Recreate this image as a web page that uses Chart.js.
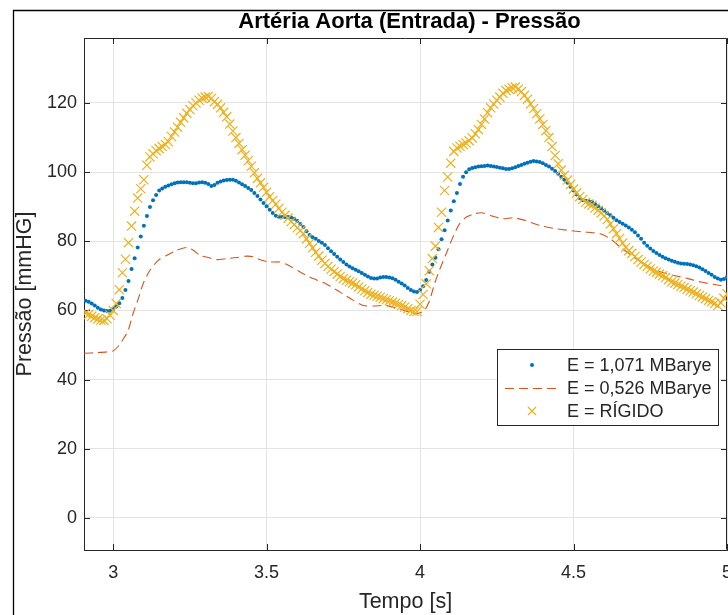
<!DOCTYPE html>
<html>
<head>
<meta charset="utf-8">
<script src="https://cdn.jsdelivr.net/npm/chart.js@4.4.1/dist/chart.umd.min.js"></script>
<style>
html,body{margin:0;padding:0;background:#fff;overflow:hidden;width:728px;height:615px;}
#wrap{position:absolute;left:0;top:0;width:760px;height:615px;}
</style>
</head>
<body>
<div id="wrap"><canvas id="c" width="760" height="615"></canvas></div>
<script>
const chartTitle = 'Artéria Aorta (Entrada) - Pressão';
const xAxisTitle = 'Tempo [s]';
const yAxisTitle = 'Pressão [mmHG]';
const seriesNames = ['E = 1,071 MBarye', 'E = 0,526 MBarye', 'E = RÍGIDO'];

const xTicks = [3, 3.5, 4, 4.5, 5];
const xTickLabels = ['3', '3.5', '4', '4.5', '5'];
const yTicks = [0, 20, 40, 60, 80, 100, 120];
const yTickLabels = ['0', '20', '40', '60', '80', '100', '120'];

const tempo = [
2.91,2.92,2.93,2.94,2.95,2.96,2.97,2.98,2.99,3.00,
3.01,3.02,3.03,3.04,3.05,3.06,3.07,3.08,3.09,3.10,
3.11,3.12,3.13,3.14,3.15,3.16,3.17,3.18,3.19,3.20,
3.21,3.22,3.23,3.24,3.25,3.26,3.27,3.28,3.29,3.30,
3.31,3.32,3.33,3.34,3.35,3.36,3.37,3.38,3.39,3.40,
3.41,3.42,3.43,3.44,3.45,3.46,3.47,3.48,3.49,3.50,
3.51,3.52,3.53,3.54,3.55,3.56,3.57,3.58,3.59,3.60,
3.61,3.62,3.63,3.64,3.65,3.66,3.67,3.68,3.69,3.70,
3.71,3.72,3.73,3.74,3.75,3.76,3.77,3.78,3.79,3.80,
3.81,3.82,3.83,3.84,3.85,3.86,3.87,3.88,3.89,3.90,
3.91,3.92,3.93,3.94,3.95,3.96,3.97,3.98,3.99,4.00,
4.01,4.02,4.03,4.04,4.05,4.06,4.07,4.08,4.09,4.10,
4.11,4.12,4.13,4.14,4.15,4.16,4.17,4.18,4.19,4.20,
4.21,4.22,4.23,4.24,4.25,4.26,4.27,4.28,4.29,4.30,
4.31,4.32,4.33,4.34,4.35,4.36,4.37,4.38,4.39,4.40,
4.41,4.42,4.43,4.44,4.45,4.46,4.47,4.48,4.49,4.50,
4.51,4.52,4.53,4.54,4.55,4.56,4.57,4.58,4.59,4.60,
4.61,4.62,4.63,4.64,4.65,4.66,4.67,4.68,4.69,4.70,
4.71,4.72,4.73,4.74,4.75,4.76,4.77,4.78,4.79,4.80,
4.81,4.82,4.83,4.84,4.85,4.86,4.87,4.88,4.89,4.90,
4.91,4.92,4.93,4.94,4.95,4.96,4.97,4.98,4.99,5.00
];

const pressaoE1071 = [
62.8,62.5,62.0,61.4,60.8,60.3,60.0,59.8,59.9,60.4,
61.1,62.1,63.6,65.9,68.5,72.0,75.1,78.2,81.4,84.5,
87.3,89.9,91.9,93.4,94.7,95.3,95.8,96.1,96.5,96.8,
97.0,97.1,97.1,97.1,96.9,96.8,96.8,97.0,97.1,96.9,
96.6,96.0,96.3,96.9,97.3,97.6,97.7,97.8,97.8,97.5,
97.0,96.5,96.0,95.4,94.8,94.0,93.1,92.1,91.1,90.1,
89.1,88.2,87.4,87.1,87.0,87.0,87.0,86.9,86.5,85.9,
85.0,84.1,82.9,81.8,81.2,80.7,80.1,79.6,78.9,78.0,
77.1,76.3,75.5,74.7,74.0,73.3,72.7,72.2,71.8,71.3,
70.8,70.3,69.8,69.4,69.2,69.2,69.5,69.7,69.7,69.5,
69.3,68.9,68.3,67.8,67.2,66.5,65.9,65.5,65.3,65.9,
67.0,68.8,71.2,73.3,75.2,77.7,80.6,83.2,86.0,88.9,
91.6,94.0,96.6,98.7,100.0,100.8,101.2,101.4,101.6,101.7,
101.8,101.9,101.8,101.6,101.5,101.3,101.1,100.9,100.9,101.1,
101.4,101.8,102.1,102.4,102.7,103.0,103.2,103.1,102.9,102.6,
102.1,101.6,101.0,100.3,99.5,98.7,97.8,96.9,95.8,94.7,
93.5,92.5,91.9,91.7,91.6,91.4,90.8,90.1,89.5,88.8,
88.1,87.5,86.8,86.1,85.6,85.1,84.6,84.0,83.3,82.6,
81.7,80.7,79.6,78.7,77.9,77.2,76.6,76.0,75.5,75.1,
74.7,74.4,74.1,73.8,73.6,73.5,73.4,73.3,73.1,72.8,
72.4,71.9,71.4,70.8,70.3,69.7,69.2,68.9,69.1,69.7
];

const pressaoRigido = [
59.2,58.8,58.3,57.9,57.5,57.2,57.1,57.6,58.6,60.0,
62.0,66.0,70.9,74.8,79.6,84.4,88.7,92.5,95.2,97.8,
102.0,104.4,105.3,106.2,106.8,107.4,108.0,108.8,110.3,111.6,
113.0,114.4,115.7,117.0,118.1,119.2,120.0,120.8,121.4,121.7,
121.9,121.3,120.4,119.6,118.6,117.3,116.0,113.9,111.9,110.0,
108.3,106.5,104.9,103.3,101.7,99.8,98.2,96.9,95.6,94.2,
92.9,91.8,90.7,89.5,88.4,87.5,86.7,85.7,84.8,83.9,
83.1,82.2,80.7,79.4,78.1,76.8,75.7,74.5,73.6,72.7,
71.9,71.2,70.5,69.8,69.2,68.7,68.3,67.9,67.4,66.8,
66.2,65.7,65.2,64.7,64.4,64.1,63.8,63.4,63.1,62.8,
62.4,62.1,61.7,61.4,61.0,60.5,60.0,59.7,59.7,61.8,
64.6,67.7,71.5,75.0,78.6,84.0,88.4,94.7,98.6,102.6,
106.0,107.0,107.5,108.0,108.4,109.1,109.9,111.1,112.3,113.8,
115.4,117.2,118.6,119.7,120.8,121.7,122.8,123.6,124.0,124.4,
124.6,124.0,123.3,122.2,121.1,119.7,118.4,116.9,115.4,113.8,
112.0,110.0,107.4,104.8,102.4,100.6,99.1,97.7,96.4,95.1,
94.0,92.9,92.1,91.3,90.8,90.4,89.6,89.0,88.2,87.3,
86.3,85.0,83.6,82.2,80.8,79.5,78.2,77.3,76.5,75.6,
74.7,74.0,73.3,72.7,72.0,71.4,71.0,70.5,70.0,69.5,
68.9,68.3,67.9,67.5,67.0,66.6,66.1,65.7,65.3,64.8,
64.3,63.9,63.4,62.9,62.5,62.0,61.4,62.2,63.5,64.8
];

const tempoE0526 = [
2.905,2.95,2.98,3.0,3.02,3.035,3.049,3.065,3.082,3.098,
3.12,3.147,3.174,3.207,3.239,3.261,3.283,3.31,3.337,3.37,
3.402,3.435,3.457,3.484,3.511,3.543,3.571,3.609,3.652,3.696,
3.739,3.783,3.815,3.848,3.891,3.935,3.967,3.987,4.014,4.031,
4.047,4.063,4.085,4.107,4.129,4.151,4.178,4.205,4.238,4.271,
4.303,4.336,4.369,4.402,4.445,4.489,4.544,4.587,4.62,4.653,
4.697,4.74,4.784,4.828,4.873,4.915,4.959,5.0
];
const pressaoE0526 = [
47.6,47.8,48.0,48.3,50.0,52.0,54.2,59.1,63.4,67.8,
71.6,74.5,75.9,77.4,78.2,77.4,75.9,75.3,74.7,75.0,
75.3,75.7,75.5,74.5,74.0,74.0,73.1,71.1,69.2,67.6,
65.3,62.9,61.4,61.3,61.4,60.4,59.5,59.0,60.0,62.9,
67.7,71.6,76.4,81.2,85.1,87.0,88.0,88.2,87.2,86.5,
86.8,86.2,85.2,84.3,83.6,83.1,82.6,82.2,80.7,78.3,
75.4,73.0,71.1,70.1,69.2,68.2,67.5,66.9
];

const COL_BLUE = '#0072BD';
const COL_ORANGE = '#D95319';
const COL_YELLOW = '#EDB120';
const TXT = '#262626';
const FONT = '"Liberation Sans", Arial, Helvetica, sans-serif';

const framePlugin = {
  id: 'frame',
  beforeDraw(chart) {
    const c = chart.ctx;
    c.save();
    c.fillStyle = '#fff';
    c.fillRect(0, 0, chart.width, chart.height);
    c.strokeStyle = '#000';
    c.lineWidth = 1.3;
    c.beginPath();
    c.moveTo(13.5, chart.height);
    c.lineTo(13.5, 10.5);
    c.lineTo(chart.width, 10.5);
    c.stroke();
    c.restore();
  }
};

const boxPlugin = {
  id: 'box',
  beforeDatasetsDraw(chart) {
    const c = chart.ctx, a = chart.chartArea;
    const xs = chart.scales.x, ys = chart.scales.y;
    c.save();
    c.strokeStyle = TXT;
    c.lineWidth = 1;
    c.beginPath();
    c.moveTo(a.left + 0.5, a.top + 0.5);
    c.lineTo(a.right - 0.5, a.top + 0.5);
    c.lineTo(a.right - 0.5, a.bottom - 0.5);
    c.stroke();
    const tl = 6;
    c.beginPath();
    xTicks.forEach(v => {
      const px = Math.round(xs.getPixelForValue(v)) + 0.5;
      c.moveTo(px, a.bottom); c.lineTo(px, a.bottom - tl);
      c.moveTo(px, a.top); c.lineTo(px, a.top + tl);
    });
    yTicks.forEach(v => {
      const py = Math.round(ys.getPixelForValue(v)) + 0.5;
      c.moveTo(a.left, py); c.lineTo(a.left + tl, py);
      c.moveTo(a.right, py); c.lineTo(a.right - tl, py);
    });
    c.stroke();
    c.restore();
  }
};

const titleLegendPlugin = {
  id: 'titleLegend',
  afterDraw(chart) {
    const c = chart.ctx, a = chart.chartArea;
    c.save();
    c.fillStyle = '#000';
    c.font = 'bold 22px ' + FONT;
    c.textAlign = 'center';
    c.textBaseline = 'middle';
    c.fillText(chartTitle, (a.left + a.right) / 2 + 4, 22);

    // legend
    const bx = 497.5, by = 349.5, bw = 221, bh = 76;
    c.fillStyle = '#fff';
    c.fillRect(bx, by, bw, bh);
    c.strokeStyle = TXT;
    c.lineWidth = 1;
    c.strokeRect(bx, by, bw, bh);
    const rowsY = [365, 388, 411];
    const mx = 532;
    c.font = '18px ' + FONT;
    c.textAlign = 'left';
    c.textBaseline = 'middle';
    seriesNames.forEach((name, i) => {
      const y = rowsY[i];
      if (i === 0) {
        c.fillStyle = COL_BLUE;
        c.beginPath(); c.arc(mx, y, 2, 0, Math.PI * 2); c.fill();
      } else if (i === 1) {
        c.strokeStyle = COL_ORANGE; c.lineWidth = 1.1;
        c.setLineDash([9, 5]);
        c.beginPath(); c.moveTo(505, y + 0.5); c.lineTo(559, y + 0.5); c.stroke();
        c.setLineDash([]);
      } else {
        c.strokeStyle = COL_YELLOW; c.lineWidth = 1.2;
        const r = 4;
        c.beginPath();
        c.moveTo(mx - r, y - r); c.lineTo(mx + r, y + r);
        c.moveTo(mx - r, y + r); c.lineTo(mx + r, y - r);
        c.stroke();
      }
      c.fillStyle = TXT;
      c.fillText(name, 567, y + 1);
    });
    c.restore();
  }
};

const toPts = (xs, ys) => xs.map((t, i) => ({ x: t, y: ys[i] }));

new Chart(document.getElementById('c'), {
  type: 'scatter',
  data: {
    datasets: [
      {
        label: seriesNames[0],
        data: toPts(tempo, pressaoE1071),
        showLine: false,
        pointStyle: 'circle',
        pointRadius: 2,
        pointBorderWidth: 0,
        pointBackgroundColor: COL_BLUE,
        pointBorderColor: COL_BLUE,
        order: 3
      },
      {
        label: seriesNames[1],
        data: toPts(tempoE0526, pressaoE0526),
        showLine: true,
        pointRadius: 0,
        borderColor: COL_ORANGE,
        borderWidth: 1.1,
        borderDash: [9, 5],
        tension: 0.25,
        fill: false,
        order: 2
      },
      {
        label: seriesNames[2],
        data: toPts(tempo, pressaoRigido),
        showLine: false,
        pointStyle: 'crossRot',
        pointRadius: 6.5,
        pointBorderWidth: 1.2,
        pointBorderColor: COL_YELLOW,
        pointBackgroundColor: COL_YELLOW,
        order: 1
      }
    ]
  },
  options: {
    responsive: false,
    animation: false,
    devicePixelRatio: 1,
    layout: { padding: { top: 38, left: 0, right: 33, bottom: 0 } },
    plugins: {
      legend: { display: false },
      title: { display: false },
      tooltip: { enabled: false }
    },
    scales: {
      x: {
        type: 'linear',
        min: 2.905,
        max: 5,
        afterBuildTicks: s => { s.ticks = xTicks.map(v => ({ value: v })); },
        afterFit: s => { s.height = 65; },
        ticks: {
          includeBounds: false,
          color: TXT,
          font: { size: 18, family: FONT },
          padding: 12,
          maxRotation: 0,
          callback: (v) => { const i = xTicks.indexOf(v); return i >= 0 ? xTickLabels[i] : ''; }
        },
        grid: { color: '#e3e3e3', lineWidth: 1, drawTicks: false },
        border: { display: true, color: TXT, width: 1 },
        title: {
          display: true, text: xAxisTitle, color: TXT,
          font: { size: 21.5, family: FONT }, padding: { top: 0, bottom: 0 }
        }
      },
      y: {
        type: 'linear',
        min: -9.3,
        max: 138.8,
        afterBuildTicks: s => { s.ticks = yTicks.map(v => ({ value: v })); },
        afterFit: s => { s.width = 84; },
        ticks: {
          includeBounds: false,
          color: TXT,
          font: { size: 18, family: FONT },
          padding: 7,
          callback: (v) => { const i = yTicks.indexOf(v); return i >= 0 ? yTickLabels[i] : ''; }
        },
        grid: { color: '#e3e3e3', lineWidth: 1, drawTicks: false },
        border: { display: true, color: TXT, width: 1 },
        title: {
          display: true, text: yAxisTitle, color: TXT,
          font: { size: 21.5, family: FONT }, padding: { top: 12, bottom: 0 }
        }
      }
    }
  },
  plugins: [framePlugin, boxPlugin, titleLegendPlugin]
});
</script>
</body>
</html>
